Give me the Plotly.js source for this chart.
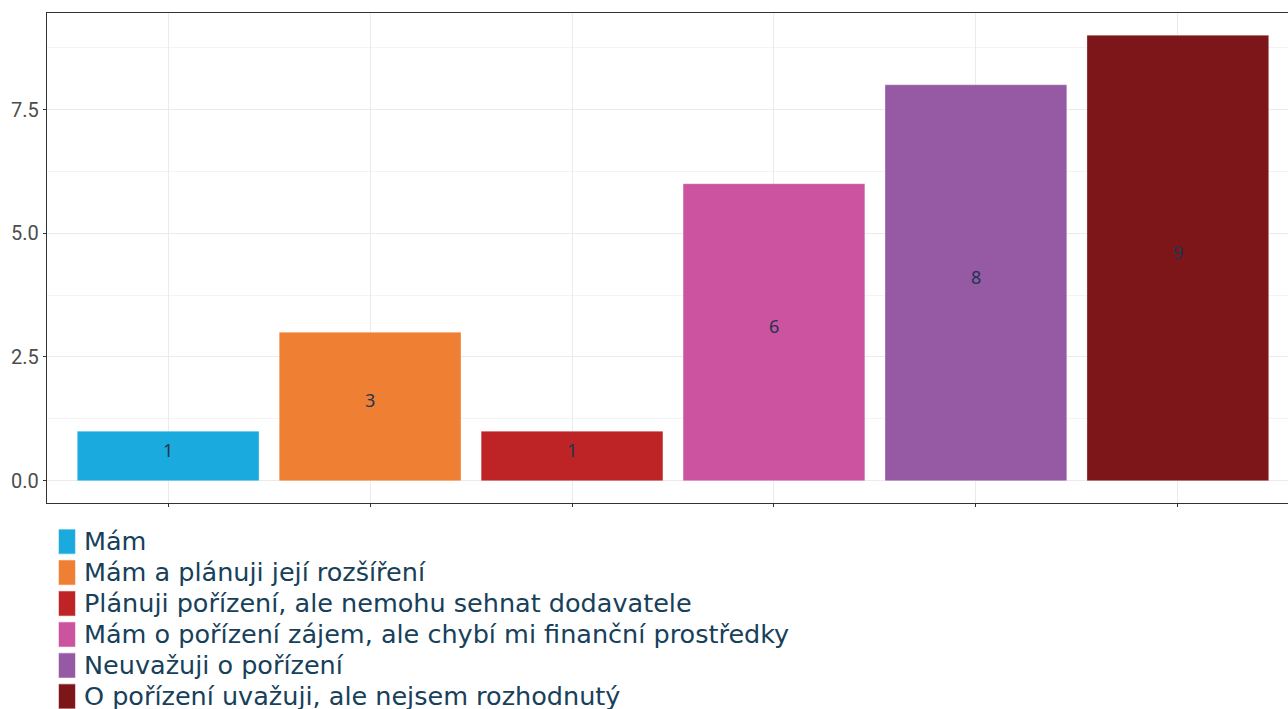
<!DOCTYPE html>
<html>
<head>
<meta charset="utf-8">
<script src="https://cdn.plot.ly/plotly-3.0.1.min.js"></script>
<style>
html,body{margin:0;padding:0;overflow:hidden;background:#fff;}
#chart{width:1310px;height:760px;}
.legend .legendpoints path{transform:translate(23px,0) scale(1.4,2.1);}
.legend .legendtext{font-size:25.5px !important;}
.legend .scrollbox{clip-path:none !important;}
.legend{clip-path:none !important;}
</style>
</head>
<body>
<div id="chart"></div>
<script>
const categories = [
  "Mám",
  "Mám a plánuji její rozšíření",
  "Plánuji pořízení, ale nemohu sehnat dodavatele",
  "Mám o pořízení zájem, ale chybí mi finanční prostředky",
  "Neuvažuji o pořízení",
  "O pořízení uvažuji, ale nejsem rozhodnutý"
];
const counts = [1, 3, 1, 6, 8, 9];
const colors = ["#1baade", "#ee7f33", "#be2325", "#cb539f", "#9659a3", "#7d1619"];
const yTickVals = [0, 2.5, 5, 7.5];
const yTickText = ["0.0", "2.5", "5.0", "7.5"];

const traces = categories.map((c, i) => ({
  type: "bar",
  name: c,
  x: [c],
  y: [counts[i]],
  width: 0.9,
  marker: {color: colors[i], line: {color: "rgba(255,255,255,0.5)", width: 0.6}},
  hoverinfo: "x+y"
}));

// value labels at the middle of each bar
const labels = categories.map((c, i) => ({
  x: c,
  y: counts[i] / 2,
  xref: "x",
  yref: "y",
  text: String(counts[i]),
  showarrow: false,
  yshift: 6,
  font: {family: "Noto Sans, sans-serif", size: 18, color: "#1f3550"}
}));

const layout = {
  width: 1310,
  height: 760,
  margin: {l: 47, r: 11, t: 13, b: 257},
  paper_bgcolor: "#ffffff",
  plot_bgcolor: "#ffffff",
  barmode: "overlay",
  showlegend: true,
  annotations: labels,
  xaxis: {
    type: "category",
    categoryorder: "array",
    categoryarray: categories,
    range: [-0.6, 5.6],
    showticklabels: false,
    ticks: "outside",
    ticklen: 3,
    tickcolor: "#333333",
    showgrid: true,
    gridcolor: "#ebebeb",
    gridwidth: 1,
    showline: true,
    linecolor: "#333333",
    linewidth: 1.2,
    mirror: true,
    zeroline: false,
    fixedrange: true
  },
  yaxis: {
    range: [-0.45, 9.45],
    tickvals: yTickVals,
    ticktext: yTickText,
    ticks: "outside",
    ticklen: 3,
    tickcolor: "#333333",
    tickfont: {family: "Roboto, sans-serif", size: 20, color: "#4d4d4d"},
    showgrid: true,
    gridcolor: "#ebebeb",
    gridwidth: 1,
    minor: {dtick: 1.25, tick0: 0, showgrid: true, gridcolor: "#f3f3f3", gridwidth: 1, ticks: ""},
    showline: true,
    linecolor: "#333333",
    linewidth: 1.2,
    mirror: true,
    zeroline: false,
    fixedrange: true
  },
  legend: {
    x: -0.0024,
    xanchor: "left",
    y: -0.037,
    yanchor: "top",
    orientation: "v",
    bgcolor: "rgba(0,0,0,0)",
    font: {family: "DejaVu Sans, sans-serif", size: 21.5, color: "#17405a"},
    itemwidth: 30,
    tracegroupgap: 0,
    traceorder: "normal"
  }
};

Plotly.newPlot("chart", traces, layout, {displayModeBar: false, staticPlot: true});
</script>
</body>
</html>
